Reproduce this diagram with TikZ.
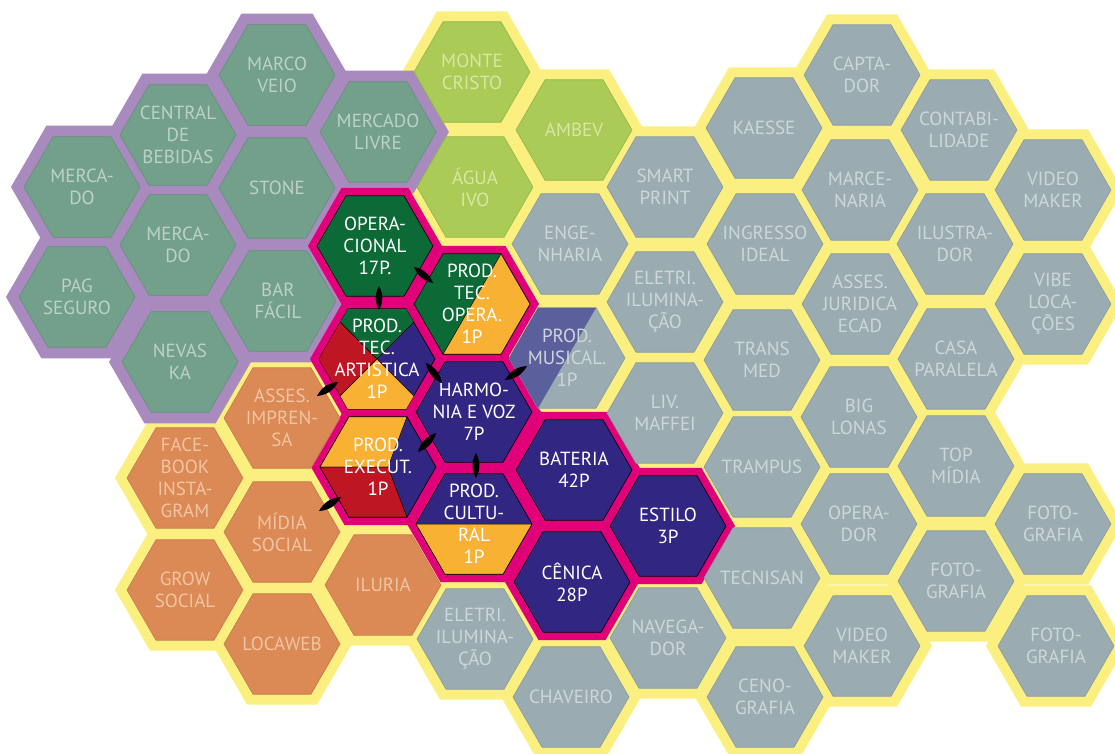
\documentclass[tikz,border=0pt]{standalone}
\usepackage{fontspec}
\setmainfont{PT Sans}
\usetikzlibrary{shapes.geometric, calc}

\definecolor{sagefill}{HTML}{73A08A}
\definecolor{sageline}{HTML}{62907A}
\definecolor{sagetext}{HTML}{BDD2C7}
\definecolor{limefill}{HTML}{AACB55}
\definecolor{limeline}{HTML}{93B24A}
\definecolor{limetext}{HTML}{D8E7A6}
\definecolor{slatefill}{HTML}{9AACB2}
\definecolor{slateline}{HTML}{8799A0}
\definecolor{slatetext}{HTML}{CDD7DA}
\definecolor{tangfill}{HTML}{DB8955}
\definecolor{tangline}{HTML}{C27A4D}
\definecolor{tangtext}{HTML}{F1C5A3}
\definecolor{haloyel}{HTML}{FBF07F}
\definecolor{halopur}{HTML}{A98ABE}
\definecolor{halomag}{HTML}{E2007A}
\definecolor{corenavy}{HTML}{312783}
\definecolor{coregreen}{HTML}{0B6A36}
\definecolor{corered}{HTML}{BE1622}
\definecolor{coreorange}{HTML}{F8B133}
\definecolor{musicpur}{HTML}{5B5F9C}

\tikzset{
  cell/.style={regular polygon, regular polygon sides=6, minimum size=116pt, inner sep=0pt, outer sep=0pt, line width=0.6pt},
  halo/.style={regular polygon, regular polygon sides=6, inner sep=0pt, outer sep=0pt},
  word/.style={align=center, inner sep=0pt, font=\fontsize{19}{22}\selectfont},
  lens/.style={fill=black},
  % groups
  limehalo/.style={fill=haloyel, minimum size=140pt},
  slatehalo/.style={fill=haloyel, minimum size=140pt},
  tanghalo/.style={fill=haloyel, minimum size=140pt},
  sagehalo/.style={fill=halopur, minimum size=142pt},
  corehalo/.style={fill=halomag, minimum size=134pt},
  coreghalo/.style={fill=halomag, minimum size=134pt},
  limecell/.style={fill=limefill, draw=limeline},
  slatecell/.style={fill=slatefill, draw=slateline},
  tangcell/.style={fill=tangfill, draw=tangline},
  sagecell/.style={fill=sagefill, draw=sageline},
  corecell/.style={fill=corenavy, draw=black},
  coregcell/.style={fill=coregreen, draw=black},
  limeword/.style={text=limetext},
  slateword/.style={text=slatetext},
  tangword/.style={text=tangtext},
  sageword/.style={text=sagetext},
  coreword/.style={text=white},
  coregword/.style={text=white}
}

% name/x/y/group/text (yellow groups first, then purple, then magenta)
\def\cells{
  mcr/472/72/lime/MONTE\\CRISTO,
  amb/574/130/lime/AMBEV,
  agu/475/187/lime/ÁGUA\\IVO,
  cap/862/75/slate/CAPTA-\\DOR,
  kae/764/128/slate/KAESSE,
  con/959/130/slate/CONTABI-\\LIDADE,
  smp/665/187/slate/SMART\\PRINT,
  mar/860/190/slate/MARCE-\\NARIA,
  vmt/1053/190/slate/VIDEO\\MAKER,
  eng/570/244/slate/ENGE-\\NHARIA,
  ing/765/244/slate/INGRESSO\\IDEAL,
  ilu/955/244/slate/ILUSTRA-\\DOR,
  elu/665/302/slate/ELETRI.\\ILUMINA-\\ÇÃO,
  aje/860/304/slate/ASSES.\\JURIDICA\\ECAD,
  vib/1053/304/slate/VIBE\\LOCA-\\ÇÕES,
  mus/567/358/slate/PROD.\\MUSICAL.\\1P,
  trm/762/360/slate/TRANS\\MED,
  cpa/956/359/slate/CASA\\PARALELA,
  lmf/665/413/slate/LIV.\\MAFFEI,
  big/859/417/slate/BIG\\LONAS,
  tra/762/467/slate/TRAMPUS,
  tmi/956/466/slate/TOP\\MÍDIA,
  opd/859/524/slate/OPERA-\\DOR,
  foa/1053/524/slate/FOTO-\\GRAFIA,
  tec/762/578/slate/TECNISAN,
  fob/956/581/slate/FOTO-\\GRAFIA,
  nav/668/638/slate/NAVEGA-\\DOR,
  eld/475/639/slate/ELETRI.\\ILUMINA-\\ÇÃO,
  vmb/862/646/slate/VIDEO\\MAKER,
  foc/1056/646/slate/FOTO-\\GRAFIA,
  ceno/765/697/slate/CENO-\\GRAFIA,
  cha/571/697/slate/CHAVEIRO,
  imp/282/418/tang/ASSES.\\IMPREN-\\SA,
  fbk/185/478/tang/FACE-\\BOOK\\INSTA-\\GRAM,
  mid/282/532/tang/MÍDIA\\SOCIAL,
  gro/185/590/tang/GROW\\SOCIAL,
  ilr/383/585/tang/ILURIA,
  loc/282/644/tang/LOCAWEB,
  mvo/277/75/sage/MARCO\\VEIO,
  ceb/178/135/sage/CENTRAL\\DE\\BEBIDAS,
  mca/82/187/sage/MERCA-\\DO,
  sto/277/188/sage/STONE,
  mli/378/132/sage/MERCADO\\LIVRE,
  mcb/178/245/sage/MERCA-\\DO,
  pag/77/297/sage/PAG\\SEGURO,
  bar/278/301/sage/BAR\\FÁCIL,
  nev/180/362/sage/NEVAS\\KA,
  opr/375/246/coreg/OPERA-\\CIONAL\\17P.,
  ope/472/304/coreg/PROD.\\TEC.\\OPERA.\\1P,
  art/377/359/core/PROD.\\TEC.\\ARTISTICA\\1P,
  exe/378/467/core/PROD.\\EXECUT.\\1P,
  har/474/412/core/HARMO-\\NIA E VOZ\\7P,
  cul/474/524/core/PROD.\\CULTU-\\RAL\\1P,
  bat/574/470/core/BATERIA\\42P,
  est/668/526/core/ESTILO\\3P,
  cni/572/582/core/CÊNICA\\28P
}

\begin{document}
\begin{tikzpicture}[x=1pt, y=-1pt]
\useasboundingbox (0,0) rectangle (1115,754);

% borders
\foreach \nm/\px/\py/\grp/\lbl in \cells {
  \node[halo, \grp halo] (h\nm) at (\px,\py) {};
}

% cells
\foreach \nm/\px/\py/\grp/\lbl in \cells {
  \node[cell, \grp cell] (\nm) at (\px,\py) {};
}

% split cells
\fill[musicpur, shift={(mus)}] (-58,0) -- (-29,-50.2) -- (29,-50.2) -- (-29,50.2) -- cycle;
\filldraw[coreorange, draw=black, line width=0.5pt, shift={(ope)}] (29,-50.2) -- (58,0) -- (29,50.2) -- (-29,50.2) -- cycle;
\begin{scope}
  \clip[shift={(art)}] (58,0) -- (29,50.2) -- (-29,50.2) -- (-58,0) -- (-29,-50.2) -- (29,-50.2) -- cycle;
  \filldraw[coregreen, draw=black, line width=0.5pt, shift={(art)}] (0,0) -- (-70,-70) -- (70,-70) -- cycle;
  \filldraw[corered, draw=black, line width=0.5pt, shift={(art)}] (0,0) -- (-70,-70) -- (-70,70) -- cycle;
  \filldraw[coreorange, draw=black, line width=0.5pt, shift={(art)}] (0,0) -- (-70,70) -- (70,70) -- cycle;
\end{scope}
\filldraw[coreorange, draw=black, line width=0.5pt, shift={(exe)}] (-58,0) -- (-29,-50.2) -- (29,-50.2) -- (10,0) -- cycle;
\filldraw[corered, draw=black, line width=0.5pt, shift={(exe)}] (-58,0) -- (10,0) -- (29,50.2) -- (-29,50.2) -- cycle;
\filldraw[coreorange, draw=black, line width=0.5pt, shift={(cul)}] (-58,0) -- (58,0) -- (29,50.2) -- (-29,50.2) -- cycle;

% labels
\foreach \nm/\px/\py/\grp/\lbl in \cells {
  \node[word, \grp word] (t\nm) at (\nm) {\lbl};
}

% links
\foreach \a/\ax/\ay/\b/\bx/\by in {opr/4/40/art/2/-49, opr/39/21/ope/-39/-21,
    art/49/4/har/-32/-29, har/31/-32/mus/-40/8, har/-38/21/exe/40/-15,
    har/2/41/cul/2/-46, art/-39/23/imp/35/-22, exe/-37/30/mid/37/-21}
  \fill[lens] ($(\a)+(\ax,\ay)$) to[bend left=28] ($(\b)+(\bx,\by)$)
    to[bend left=28] ($(\a)+(\ax,\ay)$);

\end{tikzpicture}
\end{document}
